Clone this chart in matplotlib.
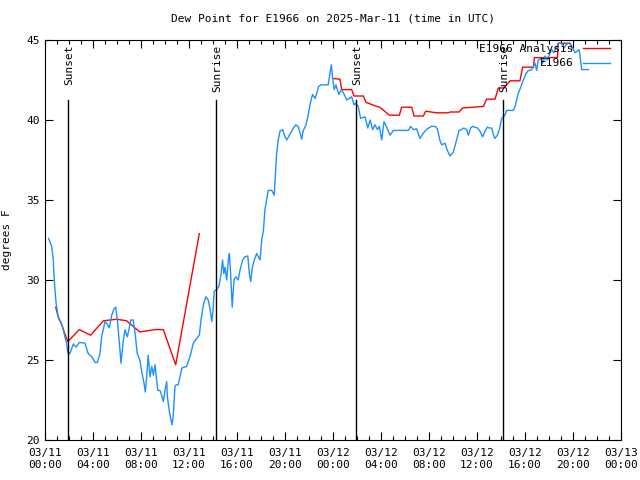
import matplotlib
matplotlib.use("Agg")
import matplotlib.pyplot as plt
import numpy as np

plt.rcParams['font.family'] = 'DejaVu Sans Mono'
plt.rcParams['font.size'] = 8

# hours since 03/11 00:00 UTC
obs_hours = [0.3, 0.56, 0.69, 0.75, 0.83, 0.92, 1.1, 1.3, 1.53, 1.67, 1.8, 1.9, 2.08, 2.36, 2.58, 2.86,
             3.33, 3.6, 3.9, 4.17, 4.36, 4.58, 4.72, 5.0, 5.14, 5.36, 5.56, 5.75, 5.89, 6.03, 6.2, 6.33,
             6.53, 6.67, 6.86, 7.0, 7.14, 7.36, 7.5, 7.69, 7.9, 8.08, 8.25, 8.36, 8.47, 8.6, 8.75, 8.9,
             9.03, 9.17, 9.3, 9.4, 9.58, 9.72, 9.86, 10.0, 10.14, 10.2, 10.36, 10.5, 10.6, 10.7, 10.83,
             10.92, 11.1, 11.25, 11.4, 11.8, 12.08, 12.36, 12.64, 12.86, 13.0, 13.2, 13.4, 13.6, 13.75,
             13.9, 14.0, 14.1, 14.3, 14.5, 14.67, 14.8, 14.9, 15.0, 15.14, 15.28, 15.36, 15.47, 15.6,
             15.75, 15.9, 16.1, 16.25, 16.47, 16.67, 16.9, 17.03, 17.14, 17.28, 17.44, 17.64, 17.78,
             17.92, 18.06, 18.2, 18.33, 18.6, 18.9, 19.1, 19.17, 19.3, 19.44, 19.58, 19.8, 20.0, 20.14,
             20.36, 20.7, 20.9, 21.1, 21.25, 21.4, 21.5, 21.75, 21.86, 22.0, 22.14, 22.3, 22.5, 22.64,
             22.8, 23.0, 23.6, 23.75, 23.86, 23.97, 24.1, 24.25, 24.4, 24.5, 24.7, 24.9, 25.14, 25.36,
             25.56, 25.75, 25.9, 26.1, 26.3, 26.67, 26.9, 27.1, 27.3, 27.5, 27.7, 27.86, 28.06, 28.25,
             28.5, 28.75, 29.03, 30.28, 30.47, 30.7, 30.97, 31.25, 31.5, 31.86, 32.2, 32.5, 32.7, 32.9,
             33.06, 33.33, 33.53, 33.75, 34.03, 34.3, 34.5, 34.7, 34.9, 35.14, 35.28, 35.47, 35.64,
             35.83, 36.03, 36.25, 36.47, 36.67, 36.86, 37.03, 37.22, 37.36, 37.5, 37.7, 37.86, 38.06,
             38.33, 38.47, 38.6, 39.03, 39.17, 39.3, 39.44, 39.67, 39.86, 40.08, 40.28, 40.47, 40.64,
             40.83, 40.97, 41.1, 41.3, 41.47, 41.67, 41.8, 42.03, 42.22, 42.4, 42.64, 42.78, 43.06,
             43.25, 43.47, 43.75, 43.97, 44.17, 44.36, 44.5, 44.58, 44.72, 45.28]
obs_dewpt = [32.6, 32.1, 31.25, 30.3, 29.4, 28.6, 27.7, 27.4, 26.9, 26.4, 26.05, 25.45, 25.4, 26.0, 25.8, 26.1,
             26.05, 25.4, 25.2, 24.85, 24.85, 25.4, 26.45, 27.4, 27.3, 27.0, 27.8, 28.2, 28.3, 27.5, 26.05, 24.8,
             26.25, 26.9, 26.45, 26.9, 27.5, 27.5, 26.7, 25.4, 25.0, 24.2, 23.55, 23.0, 23.95, 25.3, 23.95, 24.6,
             24.05, 24.7, 23.75, 23.1, 23.1, 22.8, 22.4, 23.1, 23.65, 22.7, 21.8, 21.25, 20.95, 21.65, 23.35,
             23.45, 23.45, 23.95, 24.5, 24.6, 25.2, 26.05, 26.35, 26.55, 27.5, 28.45, 28.95, 28.75, 28.2,
             27.4, 28.1, 29.3, 29.4, 29.6, 30.4, 31.25, 30.4, 30.8, 30.0, 31.25, 31.65, 30.4, 28.3,
             30.0, 30.2, 30.0, 30.6, 31.25, 31.45, 31.5, 30.4, 29.9, 30.8, 31.25, 31.65, 31.45,
             31.25, 32.5, 33.1, 34.4, 35.6, 35.6, 35.3, 36.25, 37.9, 38.75, 39.3, 39.4, 38.95, 38.75,
             39.05, 39.5, 39.7, 39.6, 39.2, 38.8, 39.3, 39.7, 40.05, 40.6, 41.15, 41.6, 41.35, 41.65,
             42.1, 42.2, 42.2, 42.9, 43.45, 42.6, 41.9, 42.2, 41.8, 41.6, 41.9, 41.65, 41.25, 41.35,
             41.45, 40.95, 41.05, 40.85, 40.1, 40.2, 39.5, 40.0, 39.4, 39.7, 39.4, 39.6, 38.75, 39.9,
             39.5, 39.05, 39.35, 39.35, 39.6, 39.4, 39.45, 38.85, 39.15, 39.45, 39.6, 39.6, 39.45, 38.75,
             38.45, 38.55, 38.1, 37.75, 38.0, 38.75, 39.35, 39.4, 39.5, 39.4, 39.05, 39.5, 39.6,
             39.55, 39.5, 39.3, 38.95, 39.3, 39.55, 39.5, 39.5, 39.1, 38.85, 39.05, 39.4, 40.1,
             40.3, 40.6, 40.6, 40.6, 40.85, 41.25, 41.65, 42.1, 42.5, 42.9, 43.1, 43.1, 43.25,
             43.55, 43.1, 43.75, 43.85, 43.55, 44.0, 43.75, 44.05, 44.4, 44.2, 44.6, 44.8, 44.8,
             44.5, 44.75, 44.8, 44.5, 44.2, 44.3, 44.4, 44.05, 43.15, 43.15]

ana_hours = [0.89, 1.1, 1.4, 1.53, 1.9, 2.86, 3.8, 4.86, 5.97, 6.8, 7.9, 9.17, 9.86, 10.89, 12.86,
             np.nan,
             23.97, 24.58, 24.72, 25.56, 25.75, 26.53, 26.75, 27.64, 27.9, 28.7, 29.53, 29.72, 30.56,
             30.75, 31.53, 31.72, 32.64, 33.6, 33.75, 34.5, 34.8, 35.7, 36.53, 36.8, 37.5, 37.78,
             38.25, 38.75, 39.58, 39.8, 40.7, 40.78, 42.7, 42.78, 43.75, 43.9]
ana_dewpt = [28.3, 27.7, 27.2, 26.9, 26.15, 26.9, 26.55, 27.45, 27.55, 27.45, 26.75, 26.9, 26.9, 24.7, 32.9,
             np.nan,
             42.6, 42.55, 41.9, 41.9, 41.5, 41.5, 41.1, 40.85, 40.8, 40.3, 40.3, 40.8, 40.8,
             40.25, 40.25, 40.55, 40.45, 40.45, 40.5, 40.5, 40.75, 40.8, 40.85, 41.3, 41.3, 42.0,
             42.0, 42.45, 42.45, 43.3, 43.3, 43.9, 43.9, 44.8, 44.8, 44.5]

sun_hours = [1.92, 14.25, 25.92, 38.17]
sun_labels = ['Sunset', 'Sunrise', 'Sunset', 'Sunrise']

tick_hours = list(range(0, 49, 4))
tick_labels = ['03/11\n00:00', '03/11\n04:00', '03/11\n08:00', '03/11\n12:00', '03/11\n16:00',
               '03/11\n20:00', '03/12\n00:00', '03/12\n04:00', '03/12\n08:00', '03/12\n12:00',
               '03/12\n16:00', '03/12\n20:00', '03/13\n00:00']

fig = plt.figure(figsize=(6.4, 4.8), dpi=100)
ax = fig.add_axes([45 / 640, 40 / 480, 576 / 640, 400 / 480])

ax.plot(ana_hours, ana_dewpt, color='#ff0000', lw=1, label='E1966 Analysis')
ax.plot(obs_hours, obs_dewpt, color='#1e90ff', lw=1, label='E1966')

for h, lab in zip(sun_hours, sun_labels):
    ax.plot([h, h], [20, 41.25], color='black', lw=1)
    ax.text(h + 0.08, 44.7, lab, rotation=90, ha='center', va='top', fontsize=8)

ax.set_xlim(0, 48)
ax.set_ylim(20, 45)
ax.set_xticks(tick_hours)
ax.set_xticklabels(tick_labels)
ax.set_xticks(range(0, 49), minor=True)
ax.set_yticks(range(20, 46, 5))
ax.tick_params(which='both', direction='in', top=True, right=True, width=0.8)
ax.tick_params(which='major', length=6, pad=6)
ax.tick_params(which='minor', length=3)
ax.tick_params(axis='y', pad=4)

ax.set_title('Dew Point for E1966 on 2025-Mar-11 (time in UTC)', fontsize=8, pad=13)
ax.set_ylabel('degrees F', fontsize=8, labelpad=10)

leg = ax.legend(loc='upper right', frameon=False, markerfirst=False, handlelength=2.4,
                bbox_to_anchor=((610 - 45) / 576, 1 - 4 / 400), borderaxespad=0, borderpad=0,
                labelspacing=0.4, handletextpad=0.9)
for t in leg.get_texts():
    t.set_ha('right')

fig.savefig('out.png', dpi=100)
